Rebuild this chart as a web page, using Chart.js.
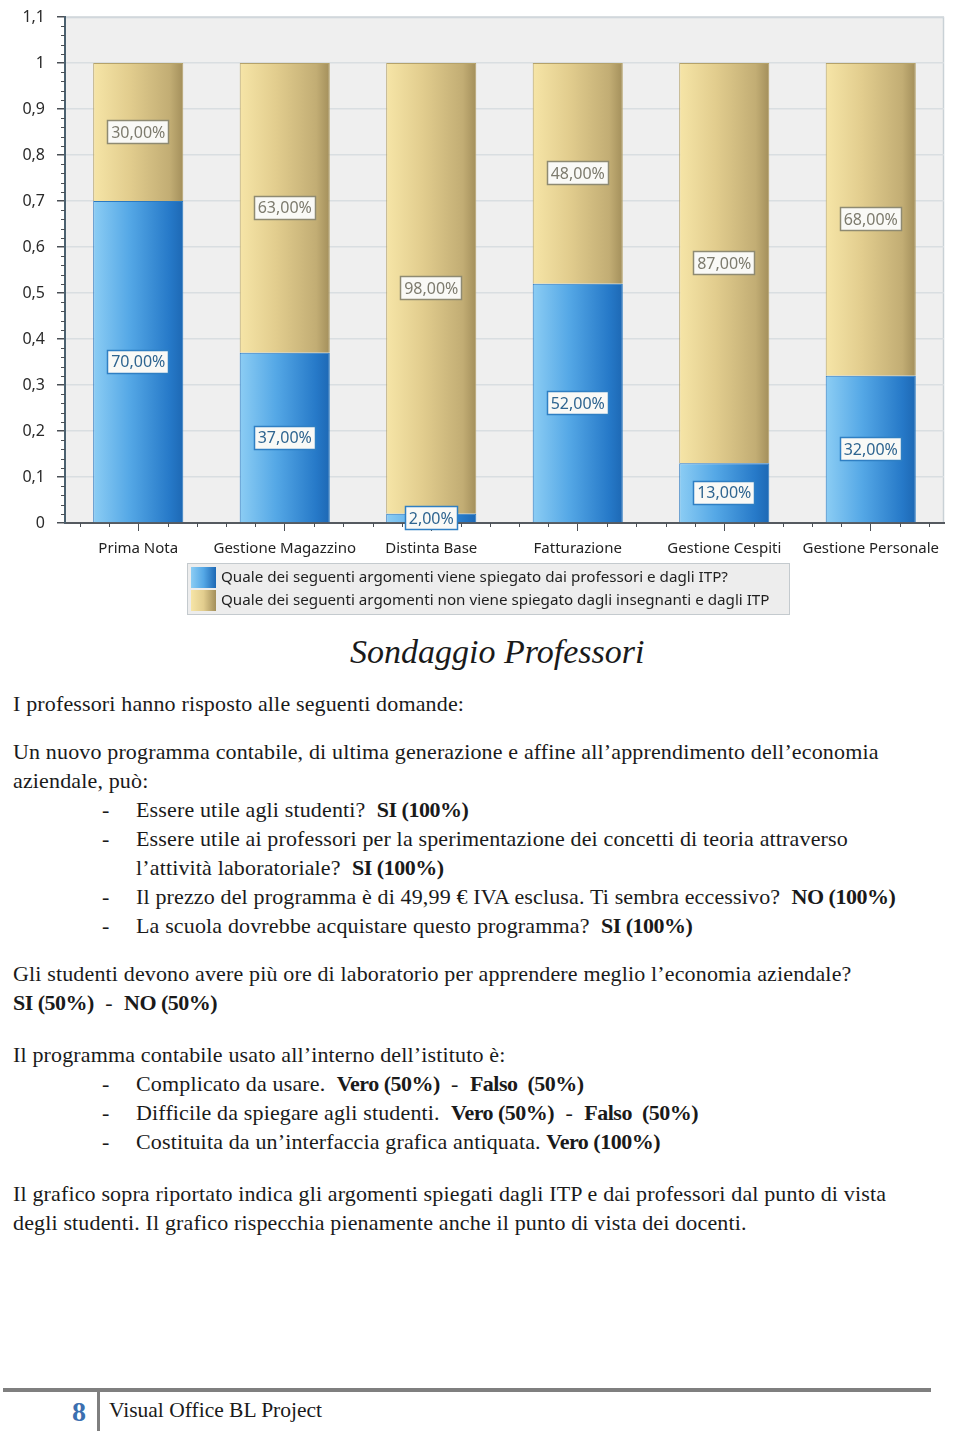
<!DOCTYPE html>
<html>
<head>
<meta charset="utf-8">
<script src="https://cdn.jsdelivr.net/npm/chart.js@4/dist/chart.umd.min.js"></script>
<style>
  html, body { margin:0; padding:0; background:#fff; }
  body { width:960px; height:1431px; position:relative; overflow:hidden; }
  #chartWrap { position:absolute; left:0; top:0; width:960px; height:620px; }
  .t { position:absolute; font-family:"Liberation Serif","Times New Roman",serif; font-size:22px; line-height:22px; letter-spacing:0.15px; color:#1a1a1a; white-space:nowrap; }
  .t b { font-weight:bold; letter-spacing:-0.5px; }
  .title { font-style:italic; font-size:34px; line-height:34px; letter-spacing:0; }
  .foot { position:absolute; }
</style>
</head>
<body>
<div id="chartWrap"><canvas id="c" width="960" height="620"></canvas></div>

<div class="t title" style="left:350px;top:635px;">Sondaggio Professori</div>
<div class="t" style="left:13px;top:693px;">I professori hanno risposto alle seguenti domande:</div>
<div class="t" style="left:13px;top:741px;">Un nuovo programma contabile, di ultima generazione e affine all’apprendimento dell’economia</div>
<div class="t" style="left:13px;top:770px;">aziendale, può:</div>
<div class="t" style="left:102px;top:799px;">-</div>
<div class="t" style="left:136px;top:799px;">Essere utile agli studenti?&nbsp; <b>SI (100%)</b></div>
<div class="t" style="left:102px;top:828px;">-</div>
<div class="t" style="left:136px;top:828px;">Essere utile ai professori per la sperimentazione dei concetti di teoria attraverso</div>
<div class="t" style="left:136px;top:857px;">l’attività laboratoriale?&nbsp; <b>SI (100%)</b></div>
<div class="t" style="left:102px;top:886px;">-</div>
<div class="t" style="left:136px;top:886px;">Il prezzo del programma è di 49,99 € IVA esclusa. Ti sembra eccessivo?&nbsp; <b>NO (100%)</b></div>
<div class="t" style="left:102px;top:915px;">-</div>
<div class="t" style="left:136px;top:915px;">La scuola dovrebbe acquistare questo programma?&nbsp; <b>SI (100%)</b></div>
<div class="t" style="left:13px;top:963px;">Gli studenti devono avere più ore di laboratorio per apprendere meglio l’economia aziendale?</div>
<div class="t" style="left:13px;top:992px;"><b>SI (50%)</b>&nbsp; -&nbsp; <b>NO (50%)</b></div>
<div class="t" style="left:13px;top:1044px;">Il programma contabile usato all’interno dell’istituto è:</div>
<div class="t" style="left:102px;top:1073px;">-</div>
<div class="t" style="left:136px;top:1073px;">Complicato da usare.&nbsp; <b>Vero (50%)</b>&nbsp; -&nbsp; <b>Falso&nbsp; (50%)</b></div>
<div class="t" style="left:102px;top:1102px;">-</div>
<div class="t" style="left:136px;top:1102px;">Difficile da spiegare agli studenti.&nbsp; <b>Vero (50%)</b>&nbsp; -&nbsp; <b>Falso&nbsp; (50%)</b></div>
<div class="t" style="left:102px;top:1131px;">-</div>
<div class="t" style="left:136px;top:1131px;">Costituita da un’interfaccia grafica antiquata. <b>Vero (100%)</b></div>
<div class="t" style="left:13px;top:1183px;">Il grafico sopra riportato indica gli argomenti spiegati dagli ITP e dai professori dal punto di vista</div>
<div class="t" style="left:13px;top:1212px;">degli studenti. Il grafico rispecchia pienamente anche il punto di vista dei docenti.</div>

<div class="foot" style="left:3px;top:1388px;width:928px;height:4px;background:#7f7f7f;"></div>
<div class="foot" style="left:97px;top:1390px;width:3px;height:41px;background:#7f7f7f;"></div>
<div class="t" style="left:72px;top:1398px;font-size:28px;line-height:28px;font-weight:bold;color:#3b6fb0;letter-spacing:0;">8</div>
<div class="t" style="left:109px;top:1399px;font-size:21.5px;line-height:22px;letter-spacing:0;">Visual Office BL Project</div>

<script>
// ---- data ----
const categories = ["Prima Nota", "Gestione Magazzino", "Distinta Base", "Fatturazione", "Gestione Cespiti", "Gestione Personale"];
const seriesNames = [
  "Quale dei seguenti argomenti viene spiegato dai professori e dagli ITP?",
  "Quale dei seguenti argomenti non viene spiegato dagli insegnanti e dagli ITP"
];
const spiegato = [0.70, 0.37, 0.02, 0.52, 0.13, 0.32];
const nonSpiegato = [0.30, 0.63, 0.98, 0.48, 0.87, 0.68];
const yTickValues = [0, 0.1, 0.2, 0.3, 0.4, 0.5, 0.6, 0.7, 0.8, 0.9, 1, 1.1];

const FONT = '"Noto Sans", "DejaVu Sans", sans-serif';
const BAR_PCT = 0.615;

const palettes = [
  { stops: ['#8ccdf4', '#55a8e6', '#2679c8', '#1d68b4'], border: '#2a79c2', labelText: '#2f6590', labelBorder: '#2f7fc3' },
  { stops: ['#f6e5a7', '#e2cd8e', '#c2ad74', '#a38f5b'], border: '#b5a26a', labelText: '#7d7b6e', labelBorder: '#8e8a72' }
];

function barGradient(chart, dsIndex, dataIndex) {
  const xs = chart.scales.x;
  if (!xs || !chart.chartArea) return palettes[dsIndex].stops[1];
  const cx = xs.getPixelForValue(dataIndex);
  const w = (xs.width / categories.length) * BAR_PCT;
  const g = chart.ctx.createLinearGradient(cx - w / 2, 0, cx + w / 2, 0);
  const s = palettes[dsIndex].stops;
  g.addColorStop(0, s[0]); g.addColorStop(0.4, s[1]); g.addColorStop(0.85, s[2]); g.addColorStop(1, s[3]);
  return g;
}

function fmtTick(v) {
  const r = Math.round(v * 10) / 10;
  return String(r).replace('.', ',');
}
function fmtPct(v) {
  return (v * 100).toFixed(2).replace('.', ',') + '%';
}

const plotDecor = {
  id: 'plotDecor',
  beforeDraw(chart) {
    const { ctx, chartArea: a } = chart;
    ctx.save();
    ctx.fillStyle = '#efefef';
    ctx.fillRect(a.left, a.top, a.right - a.left, a.bottom - a.top);
    ctx.strokeStyle = '#c9d1d6';
    ctx.lineWidth = 1.5;
    ctx.beginPath();
    ctx.moveTo(a.left, a.top + 0.5); ctx.lineTo(a.right - 0.5, a.top + 0.5); ctx.lineTo(a.right - 0.5, a.bottom);
    ctx.stroke();
    ctx.restore();
  },
  afterDraw(chart) {
    const { ctx, chartArea: a, scales } = chart;
    const ys = scales.y, xs = scales.x;
    ctx.save();
    ctx.strokeStyle = '#4a4f55';
    ctx.lineWidth = 1;
    // minor y ticks
    for (let i = 0; i <= 55; i++) {
      if (i % 5 === 0) continue;
      const y = Math.round(ys.getPixelForValue(i * 0.02)) + 0.5;
      ctx.beginPath(); ctx.moveTo(a.left - 4, y); ctx.lineTo(a.left, y); ctx.stroke();
    }
    // minor x ticks
    const step = xs.width / categories.length / 5;
    for (let c = 0; c < categories.length; c++) {
      const cx = xs.getPixelForValue(c);
      for (const k of [-2, -1, 1, 2]) {
        const x = Math.round(cx + k * step) + 0.5;
        ctx.beginPath(); ctx.moveTo(x, a.bottom); ctx.lineTo(x, a.bottom + 4); ctx.stroke();
      }
    }
    // legend box
    const lx = 187, ly = 563, lw = 602, lh = 51;
    ctx.fillStyle = '#ededed';
    ctx.fillRect(lx, ly, lw, lh);
    ctx.strokeStyle = '#c4cace';
    ctx.lineWidth = 1;
    ctx.strokeRect(lx + 0.5, ly + 0.5, lw, lh);
    seriesNames.forEach((name, i) => {
      const sy = ly + 4 + i * 23;
      const g = ctx.createLinearGradient(lx + 4, 0, lx + 29, 0);
      const s = palettes[i].stops;
      g.addColorStop(0, s[0]); g.addColorStop(0.5, s[1]); g.addColorStop(1, s[3]);
      ctx.fillStyle = g;
      ctx.fillRect(lx + 4, sy, 25, 21);
      ctx.fillStyle = '#1e1e1e';
      ctx.font = '15.2px ' + FONT;
      ctx.textBaseline = 'middle';
      ctx.textAlign = 'left';
      ctx.fillText(name, lx + 34, sy + 11);
    });
    ctx.restore();
  },
  afterDatasetsDraw(chart) {
    const { ctx } = chart;
    ctx.save();
    ctx.font = '16px ' + FONT;
    ctx.textAlign = 'center';
    ctx.textBaseline = 'middle';
    chart.data.datasets.forEach((ds, di) => {
      const meta = chart.getDatasetMeta(di);
      meta.data.forEach((bar, i) => {
        const v = ds.data[i];
        const txt = fmtPct(v);
        const cy = (bar.y + bar.base) / 2;
        const tw = ctx.measureText(txt).width;
        const bw = Math.round(tw + 8), bh = 24;
        const bx = Math.round(bar.x - bw / 2), by = Math.round(cy - bh / 2);
        ctx.fillStyle = '#f9f9f6';
        ctx.fillRect(bx, by, bw, bh);
        ctx.strokeStyle = palettes[di].labelBorder;
        ctx.lineWidth = 1.5;
        ctx.strokeRect(bx + 0.5, by + 0.5, bw - 1, bh - 1);
        ctx.fillStyle = palettes[di].labelText;
        ctx.fillText(txt, bar.x, cy + 1);
      });
    });
    ctx.restore();
  }
};

new Chart(document.getElementById('c'), {
  type: 'bar',
  data: {
    labels: categories,
    datasets: [
      { label: seriesNames[0], data: spiegato,
        backgroundColor: (c) => barGradient(c.chart, 0, c.dataIndex),
        borderColor: palettes[0].border, borderWidth: 1,
        categoryPercentage: 1, barPercentage: BAR_PCT },
      { label: seriesNames[1], data: nonSpiegato,
        backgroundColor: (c) => barGradient(c.chart, 1, c.dataIndex),
        borderColor: palettes[1].border, borderWidth: 1,
        categoryPercentage: 1, barPercentage: BAR_PCT }
    ]
  },
  options: {
    responsive: false,
    animation: false,
    layout: { padding: { top: 17, right: 16, bottom: 57, left: 0 } },
    plugins: { legend: { display: false }, tooltip: { enabled: false } },
    scales: {
      x: {
        stacked: true,
        afterFit(s) { s.height = 40; s.paddingLeft = 0; s.paddingRight = 0; },
        grid: { offset: false, drawOnChartArea: false, drawTicks: true, tickLength: 8, tickColor: '#4a4f55' },
        border: { color: '#555a60', width: 2 },
        ticks: { color: '#222', font: { size: 15, family: FONT }, padding: 9, maxRotation: 0, autoSkip: false }
      },
      y: {
        stacked: true,
        min: 0, max: 1.1,
        afterFit(s) { s.width = 65; s.paddingTop = 0; s.paddingBottom = 0; },
        afterBuildTicks(s) { s.ticks = yTickValues.map(v => ({ value: v })); },
        grid: { color: '#d9dee1', lineWidth: 1.5, tickLength: 8, tickColor: '#4a4f55' },
        border: { color: '#4b6170', width: 2 },
        ticks: { color: '#2a2a2a', font: { size: 16, family: FONT }, padding: 12, callback: (v) => fmtTick(v) }
      }
    }
  },
  plugins: [plotDecor]
});
</script>
</body>
</html>
